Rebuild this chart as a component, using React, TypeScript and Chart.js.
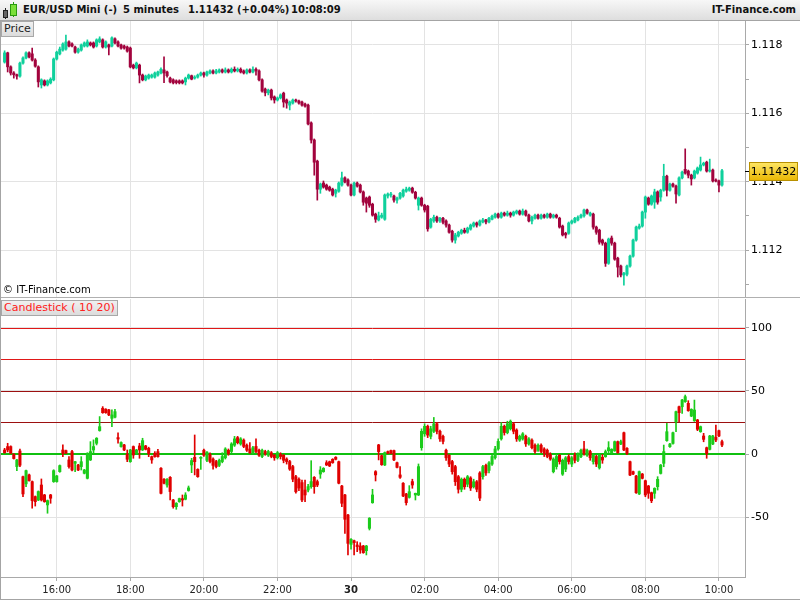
import React, { useEffect, useRef } from 'react';
import { Chart, registerables } from 'chart.js';

Chart.register(...registerables);

// ---------- categories (5-minute slots) ----------
const SESSION_START = '14:30';
const SLOT_COUNT = 243;
const FIRST_CANDLE = '14:35';
const categories: string[] = [];
{
  const [h0, m0] = SESSION_START.split(':').map(Number);
  for (let i = 0; i < SLOT_COUNT; i++) {
    const t = h0 * 60 + m0 + i * 5;
    const h = Math.floor(t / 60) % 24;
    const m = t % 60;
    categories.push(String(h).padStart(2, '0') + ':' + String(m).padStart(2, '0'));
  }
}

// ---------- x tick labels ----------
const hourTickTimes = ['16:00', '18:00', '20:00', '22:00', '00:00', '02:00', '04:00', '06:00', '08:00', '10:00'];
const hourTickLabels = ['16:00', '18:00', '20:00', '22:00', '30', '02:00', '04:00', '06:00', '08:00', '10:00'];
const boldTickLabels = ['30'];

// ---------- header texts ----------
const instrument = 'EUR/USD Mini (-)';
const period = '5 minutes';
const lastQuote = '1.11432 (+0.04%)';
const clock = '10:08:09';
const brand = 'IT-Finance.com';
const copyright = '© IT-Finance.com';
const pricePaneTitle = 'Price';
const indicatorTitle = 'Candlestick ( 10 20)';

// ---------- price candles [open, high, low, close] from 14:35 ----------
const priceCandles: number[][] = [
  [1.11750, 1.11783, 1.11747, 1.11777], [1.11777, 1.11779, 1.11721, 1.11736], [1.11736, 1.11739, 1.11712, 1.11718],
  [1.11718, 1.11722, 1.11703, 1.11713], [1.11713, 1.11715, 1.11700, 1.11709], [1.11709, 1.11750, 1.11706, 1.11747],
  [1.11747, 1.11765, 1.11744, 1.11762], [1.11762, 1.11780, 1.11759, 1.11777], [1.11777, 1.11780, 1.11762, 1.11765],
  [1.11774, 1.11791, 1.11753, 1.11756], [1.11756, 1.11760, 1.11735, 1.11738], [1.11736, 1.11739, 1.11677, 1.11692],
  [1.11683, 1.11701, 1.11674, 1.11698], [1.11695, 1.11698, 1.11680, 1.11683], [1.11683, 1.11698, 1.11680, 1.11695],
  [1.11689, 1.11704, 1.11686, 1.11700], [1.11698, 1.11762, 1.11695, 1.11759], [1.11759, 1.11782, 1.11756, 1.11779],
  [1.11774, 1.11794, 1.11771, 1.11788], [1.11785, 1.11806, 1.11782, 1.11803], [1.11788, 1.11829, 1.11785, 1.11809],
  [1.11809, 1.11812, 1.11794, 1.11797], [1.11803, 1.11806, 1.11794, 1.11797], [1.11794, 1.11797, 1.11776, 1.11779],
  [1.11779, 1.11791, 1.11776, 1.11788], [1.11785, 1.11803, 1.11782, 1.11800], [1.11797, 1.11809, 1.11794, 1.11806],
  [1.11797, 1.11815, 1.11794, 1.11809], [1.11806, 1.11809, 1.11797, 1.11800], [1.11806, 1.11809, 1.11791, 1.11794],
  [1.11797, 1.11818, 1.11794, 1.11815], [1.11809, 1.11824, 1.11806, 1.11818], [1.11815, 1.11818, 1.11791, 1.11794],
  [1.11794, 1.11812, 1.11791, 1.11809], [1.11800, 1.11803, 1.11771, 1.11794], [1.11797, 1.11824, 1.11794, 1.11821],
  [1.11818, 1.11821, 1.11803, 1.11806], [1.11809, 1.11812, 1.11794, 1.11797], [1.11800, 1.11803, 1.11788, 1.11791],
  [1.11797, 1.11800, 1.11788, 1.11791], [1.11794, 1.11797, 1.11779, 1.11782], [1.11791, 1.11794, 1.11733, 1.11736],
  [1.11741, 1.11744, 1.11730, 1.11733], [1.11733, 1.11750, 1.11730, 1.11747], [1.11741, 1.11744, 1.11689, 1.11712],
  [1.11712, 1.11715, 1.11695, 1.11698], [1.11698, 1.11712, 1.11695, 1.11709], [1.11703, 1.11715, 1.11700, 1.11712],
  [1.11706, 1.11715, 1.11703, 1.11712], [1.11706, 1.11721, 1.11703, 1.11718], [1.11712, 1.11724, 1.11709, 1.11721],
  [1.11718, 1.11733, 1.11715, 1.11729], [1.11727, 1.11765, 1.11690, 1.11718], [1.11721, 1.11724, 1.11706, 1.11710],
  [1.11703, 1.11706, 1.11689, 1.11692], [1.11698, 1.11701, 1.11686, 1.11689], [1.11695, 1.11698, 1.11686, 1.11690],
  [1.11695, 1.11698, 1.11686, 1.11689], [1.11695, 1.11698, 1.11686, 1.11689], [1.11692, 1.11706, 1.11683, 1.11703],
  [1.11703, 1.11715, 1.11700, 1.11712], [1.11710, 1.11712, 1.11698, 1.11700], [1.11703, 1.11710, 1.11700, 1.11706],
  [1.11706, 1.11715, 1.11703, 1.11712], [1.11712, 1.11721, 1.11709, 1.11718], [1.11718, 1.11721, 1.11706, 1.11712],
  [1.11712, 1.11724, 1.11709, 1.11721], [1.11718, 1.11727, 1.11715, 1.11724], [1.11724, 1.11727, 1.11715, 1.11718],
  [1.11718, 1.11729, 1.11715, 1.11724], [1.11721, 1.11730, 1.11718, 1.11727], [1.11727, 1.11730, 1.11718, 1.11721],
  [1.11721, 1.11733, 1.11718, 1.11727], [1.11727, 1.11730, 1.11718, 1.11721], [1.11721, 1.11733, 1.11718, 1.11729],
  [1.11729, 1.11736, 1.11721, 1.11724], [1.11724, 1.11733, 1.11721, 1.11729], [1.11729, 1.11733, 1.11718, 1.11721],
  [1.11724, 1.11727, 1.11715, 1.11718], [1.11718, 1.11730, 1.11715, 1.11727], [1.11727, 1.11730, 1.11718, 1.11721],
  [1.11721, 1.11736, 1.11718, 1.11729], [1.11729, 1.11733, 1.11712, 1.11724], [1.11724, 1.11727, 1.11695, 1.11698],
  [1.11698, 1.11701, 1.11662, 1.11665], [1.11671, 1.11674, 1.11651, 1.11660], [1.11660, 1.11671, 1.11654, 1.11668],
  [1.11668, 1.11671, 1.11639, 1.11645], [1.11648, 1.11651, 1.11630, 1.11639], [1.11639, 1.11648, 1.11636, 1.11645],
  [1.11645, 1.11657, 1.11642, 1.11654], [1.11659, 1.11662, 1.11618, 1.11633], [1.11639, 1.11642, 1.11615, 1.11630],
  [1.11624, 1.11636, 1.11610, 1.11633], [1.11630, 1.11642, 1.11627, 1.11639], [1.11639, 1.11642, 1.11633, 1.11636],
  [1.11636, 1.11639, 1.11627, 1.11630], [1.11633, 1.11636, 1.11621, 1.11624], [1.11627, 1.11630, 1.11618, 1.11621],
  [1.11624, 1.11627, 1.11566, 1.11569], [1.11572, 1.11575, 1.11513, 1.11522], [1.11522, 1.11525, 1.11419, 1.11457],
  [1.11460, 1.11463, 1.11346, 1.11378], [1.11378, 1.11396, 1.11366, 1.11393], [1.11396, 1.11402, 1.11381, 1.11384],
  [1.11390, 1.11393, 1.11375, 1.11378], [1.11384, 1.11387, 1.11372, 1.11375], [1.11378, 1.11381, 1.11358, 1.11361],
  [1.11366, 1.11378, 1.11355, 1.11375], [1.11372, 1.11399, 1.11369, 1.11396], [1.11390, 1.11428, 1.11387, 1.11411],
  [1.11411, 1.11414, 1.11396, 1.11399], [1.11405, 1.11408, 1.11387, 1.11390], [1.11390, 1.11393, 1.11358, 1.11361],
  [1.11361, 1.11399, 1.11358, 1.11396], [1.11396, 1.11399, 1.11384, 1.11387], [1.11390, 1.11393, 1.11367, 1.11370],
  [1.11370, 1.11373, 1.11331, 1.11340], [1.11352, 1.11355, 1.11311, 1.11337], [1.11355, 1.11358, 1.11325, 1.11331],
  [1.11334, 1.11337, 1.11299, 1.11302], [1.11305, 1.11308, 1.11281, 1.11290], [1.11288, 1.11311, 1.11285, 1.11300],
  [1.11296, 1.11308, 1.11293, 1.11302], [1.11290, 1.11364, 1.11287, 1.11361], [1.11358, 1.11367, 1.11352, 1.11364],
  [1.11361, 1.11369, 1.11355, 1.11364], [1.11358, 1.11361, 1.11340, 1.11346], [1.11346, 1.11355, 1.11337, 1.11352],
  [1.11352, 1.11369, 1.11349, 1.11366], [1.11358, 1.11378, 1.11355, 1.11375], [1.11372, 1.11384, 1.11369, 1.11378],
  [1.11375, 1.11384, 1.11372, 1.11381], [1.11381, 1.11384, 1.11366, 1.11369], [1.11369, 1.11372, 1.11349, 1.11352],
  [1.11331, 1.11355, 1.11317, 1.11352], [1.11352, 1.11355, 1.11328, 1.11331], [1.11331, 1.11334, 1.11311, 1.11317],
  [1.11328, 1.11331, 1.11255, 1.11262], [1.11267, 1.11293, 1.11264, 1.11290], [1.11285, 1.11302, 1.11281, 1.11296],
  [1.11296, 1.11299, 1.11281, 1.11285], [1.11285, 1.11296, 1.11281, 1.11293], [1.11293, 1.11296, 1.11276, 1.11281],
  [1.11285, 1.11288, 1.11267, 1.11273], [1.11273, 1.11276, 1.11249, 1.11252], [1.11255, 1.11258, 1.11223, 1.11229],
  [1.11229, 1.11249, 1.11220, 1.11244], [1.11241, 1.11255, 1.11238, 1.11252], [1.11249, 1.11261, 1.11246, 1.11258],
  [1.11258, 1.11264, 1.11249, 1.11252], [1.11252, 1.11267, 1.11249, 1.11264], [1.11261, 1.11276, 1.11258, 1.11273],
  [1.11270, 1.11282, 1.11267, 1.11279], [1.11279, 1.11282, 1.11267, 1.11273], [1.11273, 1.11288, 1.11270, 1.11285],
  [1.11282, 1.11293, 1.11279, 1.11288], [1.11288, 1.11290, 1.11276, 1.11282], [1.11282, 1.11296, 1.11279, 1.11293],
  [1.11290, 1.11302, 1.11288, 1.11299], [1.11296, 1.11308, 1.11293, 1.11305], [1.11305, 1.11308, 1.11293, 1.11296],
  [1.11296, 1.11311, 1.11293, 1.11308], [1.11308, 1.11311, 1.11299, 1.11302], [1.11302, 1.11314, 1.11299, 1.11308],
  [1.11308, 1.11311, 1.11296, 1.11302], [1.11302, 1.11314, 1.11299, 1.11311], [1.11308, 1.11317, 1.11305, 1.11314],
  [1.11314, 1.11317, 1.11302, 1.11305], [1.11305, 1.11320, 1.11302, 1.11314], [1.11314, 1.11317, 1.11299, 1.11302],
  [1.11302, 1.11305, 1.11282, 1.11285], [1.11285, 1.11299, 1.11276, 1.11296], [1.11293, 1.11305, 1.11290, 1.11302],
  [1.11302, 1.11305, 1.11290, 1.11293], [1.11293, 1.11305, 1.11290, 1.11302], [1.11302, 1.11305, 1.11293, 1.11296],
  [1.11296, 1.11308, 1.11293, 1.11305], [1.11305, 1.11308, 1.11293, 1.11296], [1.11296, 1.11305, 1.11293, 1.11302],
  [1.11302, 1.11305, 1.11293, 1.11296], [1.11293, 1.11296, 1.11264, 1.11267], [1.11270, 1.11273, 1.11241, 1.11244],
  [1.11249, 1.11252, 1.11235, 1.11244], [1.11249, 1.11282, 1.11246, 1.11279], [1.11279, 1.11288, 1.11276, 1.11285],
  [1.11282, 1.11296, 1.11279, 1.11293], [1.11288, 1.11300, 1.11285, 1.11296], [1.11296, 1.11305, 1.11293, 1.11302],
  [1.11300, 1.11320, 1.11296, 1.11317], [1.11317, 1.11320, 1.11305, 1.11308], [1.11302, 1.11311, 1.11299, 1.11308],
  [1.11305, 1.11308, 1.11261, 1.11267], [1.11267, 1.11270, 1.11246, 1.11252], [1.11258, 1.11261, 1.11217, 1.11223],
  [1.11229, 1.11232, 1.11214, 1.11220], [1.11220, 1.11223, 1.11152, 1.11161], [1.11161, 1.11235, 1.11158, 1.11232],
  [1.11235, 1.11241, 1.11214, 1.11220], [1.11220, 1.11223, 1.11170, 1.11173], [1.11176, 1.11179, 1.11121, 1.11150],
  [1.11153, 1.11156, 1.11121, 1.11127], [1.11127, 1.11135, 1.11097, 1.11132], [1.11129, 1.11156, 1.11124, 1.11153],
  [1.11153, 1.11185, 1.11150, 1.11182], [1.11182, 1.11232, 1.11179, 1.11229], [1.11229, 1.11270, 1.11226, 1.11267],
  [1.11264, 1.11276, 1.11261, 1.11270], [1.11270, 1.11314, 1.11267, 1.11311], [1.11311, 1.11358, 1.11293, 1.11355],
  [1.11352, 1.11355, 1.11331, 1.11334], [1.11334, 1.11361, 1.11331, 1.11358], [1.11340, 1.11378, 1.11322, 1.11370],
  [1.11370, 1.11373, 1.11334, 1.11340], [1.11355, 1.11378, 1.11343, 1.11375], [1.11375, 1.11451, 1.11372, 1.11416],
  [1.11416, 1.11419, 1.11358, 1.11375], [1.11375, 1.11396, 1.11372, 1.11393], [1.11393, 1.11396, 1.11384, 1.11387],
  [1.11387, 1.11390, 1.11337, 1.11364], [1.11361, 1.11414, 1.11358, 1.11411], [1.11411, 1.11431, 1.11408, 1.11428],
  [1.11436, 1.11496, 1.11422, 1.11425], [1.11431, 1.11434, 1.11411, 1.11419], [1.11419, 1.11422, 1.11390, 1.11408],
  [1.11411, 1.11434, 1.11408, 1.11431], [1.11425, 1.11443, 1.11422, 1.11440], [1.11434, 1.11472, 1.11431, 1.11449],
  [1.11449, 1.11457, 1.11446, 1.11454], [1.11457, 1.11460, 1.11428, 1.11431], [1.11431, 1.11466, 1.11428, 1.11434],
  [1.11434, 1.11437, 1.11399, 1.11402], [1.11405, 1.11408, 1.11399, 1.11402], [1.11402, 1.11405, 1.11370, 1.11390],
  [1.11390, 1.11436, 1.11387, 1.11432],
];

// ---------- indicator candles [open, high, low, close] from 14:35 ----------
const indicatorCandles: number[][] = [
  [3.2, 4.5, 0.6, 1.1], [5.9, 8.5, 1.7, 3.2], [5.9, 6.5, 0, 0.6], [-0.2, 0.3, -4, -3.6], [-10, -4.2, -13.2, -4.7],
  [2.4, 4, -10, -8.9], [-18, -17.5, -33.8, -31.7], [-23.7, -12.7, -25.9, -13.2], [-16.6, -16, -21.6, -21.1], [-21.9, -21.4, -43, -37],
  [-33.8, -33.3, -41.3, -37.8], [-36.5, -29.3, -37, -29.8], [-24.6, -19.8, -37.3, -36.5], [-32.5, -32, -38.3, -37.8], [-40.4, -36.5, -47, -37],
  [-32.5, -32, -39.1, -35.1], [-21.9, -12.5, -22.5, -13.2], [-21.9, -17, -22.4, -17.4], [-14, -8.7, -14.5, -9.2], [3.2, 7.2, -2.1, 0.6],
  [2.7, 3.2, 0, 0.6], [-4.7, -2.1, -11.3, -10], [1.9, 3, -13.5, -12.7], [-7.4, -5.8, -14, -6.1], [-8.7, -8.2, -13.2, -12.7],
  [-10, -2.1, -12.7, -6.1], [-15.3, -12.2, -15.8, -12.7], [-19.3, 1, -19.8, 0.6], [-4.7, 9.8, -5.2, 1.9], [3.2, 11.2, 0.6, 5.9],
  [8.5, 13, 7.2, 12.5], [18.6, 29.7, 18.1, 21.7], [36.3, 37.6, 32.3, 32.8], [35.5, 36, 32.3, 32.8], [35, 35.5, 30.5, 31],
  [28.3, 35, 21.7, 31], [29.2, 35.5, 28.7, 33.6], [13, 16.9, 8.5, 11.9], [5.9, 9.6, 5.4, 9.1], [7.2, 7.7, 2.7, 3.2],
  [-0.2, 3.2, -6.1, -4.2], [-6.1, 3.7, -6.6, 3.2], [5.9, 6.4, -3.4, -0.8], [1.1, 3.7, 0.6, 3.2], [6.4, 8.5, -3.4, 3.2],
  [3.2, 12.5, 2.7, 10.6], [6.4, 6.9, 3.2, 3.7], [4.5, 5.4, -2.1, 0], [-2.1, -1.6, -7.4, -4.7], [0.6, 1.9, -2.6, -2.1],
  [1.9, 3.7, -2.6, -2.1], [-11.3, -10.8, -31.7, -31.2], [-20, -19.5, -23.7, -23.2], [-24.6, -19.5, -26.4, -20], [-18.5, -18, -36.5, -29.8],
  [-36.5, -36, -43, -41.8], [-41.8, -38.6, -43.9, -39.1], [-37.8, -35, -38.3, -35.4], [-35.4, -32.5, -41.3, -36.5], [-35.9, -30.7, -36.4, -32.5],
  [-29, -25.4, -29.5, -26.9], [-8.7, -3.4, -14.8, -5.2], [-2.6, 15.1, -16.6, -6.1], [-12.2, -11.7, -18.5, -18], [-3.4, -2.1, -12.2, -2.6],
  [3, 4, -2, -1], [-5, 2, -6, 1.5], [0, 1, -7, -6], [-4, -3, -12, -9], [-6, -5, -11, -10],
  [-9, -4, -10, -5], [-6, 1, -7, -2], [-3, 5, -4, 4], [3, 4, -1, 0], [2, 9, 1, 8],
  [7, 14, 6, 12], [13, 14, 8, 9], [8, 13, 7, 12], [11, 12, 5, 6], [7, 8, 2, 3],
  [4, 9, 0, 1], [1, 6, 0, 5], [6, 12, 1, 2], [3, 4, -2, -1], [-2, 4, -3, 3],
  [2, 3, -1, 0], [-1, 3, -2, 2], [1, 2, -3, -2], [-1, 0, -5, -3], [-3, 2, -4, 1],
  [0, 1, -4, -2], [-1, 0, -7, -5], [-4, -3, -8, -6], [-6, -5, -13, -12], [-10, -9, -22, -20],
  [-18, -17, -31, -30], [-20, -19, -29, -27], [-22.7, -20.6, -37.8, -36.5], [-28.6, -20.6, -37.8, -32.5], [-28.6, -24, -30, -25.9],
  [-25.9, -5.3, -27.2, -21.9], [-18.5, -17.9, -31.2, -25.9], [-21.9, -20.6, -25.9, -24.6], [-15.9, -10, -19.3, -12.7], [-14, -10.8, -14.5, -11.4],
  [-6.9, -5.3, -9.2, -8.7], [-6.1, -5.6, -10, -9.5], [-4.2, -3.7, -7.4, -6.9], [-2.6, -2.1, -4.7, -4.2], [-6.1, -5.6, -23.7, -23.2],
  [-25.4, -24.9, -41.8, -39.1], [-32.5, -32, -63, -51.8], [-48.4, -47.9, -80.1, -70.9], [-71.7, -67.2, -75.6, -67.7], [-68.8, -68.3, -80.1, -70.4],
  [-72.2, -69.6, -77.5, -73.5], [-73, -70.4, -78.8, -76.2], [-73, -72.5, -78.8, -78.3], [-76.7, -72.5, -80.1, -73], [-59, -50.5, -60.3, -51],
  [-38.6, -28, -39.1, -32.5], [-14, -13.2, -21.4, -16.6], [7.2, 7.7, -4.7, 1.9], [-1.3, -0.8, -9, -8.5], [-8.7, 1.6, -9.2, 1.1],
  [1.9, 2.4, 0.1, 0.6], [2.7, 3.2, 0.1, 0.6], [2.7, 3.2, -5.2, -4.7], [-6.9, -6.4, -11.1, -10.6], [-16.6, -10, -19.3, -18.5],
  [-23.2, -22.7, -33.8, -33.3], [-31.7, -31.2, -40.5, -38.6], [-34.4, -25.1, -35, -29.9], [-21.9, -20, -27.2, -24.6], [-32.5, -31, -36.5, -31.2],
  [-32.5, -7.9, -33, -10], [5, 20, 3, 18], [16, 24, 14, 22], [22, 23, 13, 15], [14, 22, 12, 20],
  [18, 29, 17, 24], [24, 25, 16, 18], [18, 19, 10, 12], [14, 15, 8, 10], [3, 4, -5, -3],
  [-1, 0, -10, -8], [-6, -5, -16, -14], [-10, -9, -25, -22], [-18, -17, -31, -28], [-28, -19, -30, -20],
  [-20, -19, -28, -26], [-24, -17, -26, -18], [-19, -18, -29, -27], [-26, -20, -27, -22], [-22, -21, -30, -28],
  [-15, -14, -37, -35], [-18, -9, -20, -10], [-9, -8, -17, -15], [-13, -6, -15, -7], [-8, -1, -9, -2],
  [-3, 6, -4, 4], [4, 12, 3, 10], [12, 25, 11, 22], [22, 23, 15, 17], [17, 26, 16, 24],
  [20, 27, 19, 26], [24, 25, 16, 18], [19, 20, 10, 12], [11, 15, 10, 14], [12, 17, 11, 16],
  [14, 15, 6, 8], [8, 13, 7, 12], [11, 12, 4, 5], [7, 8, 0, 2], [3, 8, 2, 7],
  [7, 8, 1, 2], [4, 5, -2, 0], [3, 4, -3, -2], [0, 1, -5, -4], [-14, -3, -15, -4],
  [-10, 0, -12, -2], [-1, 0, -8, -6], [-16, -4, -17, -5], [-12, -2, -14, -3], [-2, 0, -8, -6],
  [-8, -2, -10, -3], [-1, 1, -7, -5], [-5, 1, -6, 0], [-2, 4, -3, 3], [4, 10, -1, 0],
  [-1, 4, -2, 3], [2, 3, -5, -3], [-6, 0, -8, -1], [-2, -1, -10, -8], [-11, 0, -12, -1],
  [-2.6, 0, -7.4, -4.8], [-2.1, 3.2, -2.6, 1.9], [2.6, 9.8, 1.1, 5], [1.1, 4.2, 0, 3.7], [2.6, 10.3, 2.1, 9.8],
  [9.8, 10.3, 0.6, 1.1], [7.9, 11.1, 7.4, 9.8], [16.9, 17.4, 2.6, 3.2], [4.5, 5, -0.5, 0], [-6.1, -5.6, -17.2, -16.7],
  [-14, -13.5, -16.4, -15.9], [-17.5, -17, -31.2, -30.7], [-31.7, -13.5, -32.2, -14], [-15.9, -15.4, -19.8, -19.3], [-21.2, -20.7, -33.9, -32.5],
  [-25.4, -24.9, -35.2, -31.2], [-30.7, -30.2, -38.6, -37.1], [-31.2, -26.8, -35.2, -27.3], [-25.9, -18, -28.6, -20.1], [-15.4, -8.3, -15.9, -8.8],
  [-7.4, 7.1, -10.1, 1.9], [10.6, 24.3, 10.1, 17.7], [5.8, 8.4, 5.3, 7.9], [8.4, 17.4, 7.9, 16.9], [25.6, 34.1, 17.7, 33.6],
  [37.5, 38, 25.6, 32.8], [37.5, 43.3, 32.3, 42.8], [41.5, 46.8, 41, 45.5], [40.2, 42.3, 33.9, 34.4], [30.1, 35.9, 29.6, 35.4],
  [26.4, 42.8, 25.9, 34.9], [27, 27.5, 18.5, 19.6], [17.7, 22.2, 17.2, 21.7], [14.3, 16.4, 9.7, 11.6], [5, 5.5, -3.4, 0],
  [3.7, 14.8, 3.2, 14.3], [7.9, 14.8, 7.4, 14.3], [13.2, 23, 9.8, 11.1], [18.5, 19, 13.8, 14.3], [9.8, 11.1, 5.8, 7.1],
];

// ---------- axis ranges & levels ----------
const priceMin = 1.110625;
const priceMax = 1.118702;
const priceStep = 0.001;
const indicatorMin = -97.6;
const indicatorMax = 123;
const indicatorStep = 50;
const levelValues = [100, 75, 50, 25, 0];

// ---------- styles ----------
const FONT = 'DejaVu Sans';
const GRID = '#e3e3e3';
const AXIS = '#a9a9a9';
const PRICE_UP = '#0fd09c';
const PRICE_DOWN = '#a2033d';
const IND_UP = '#1bcb1b';
const IND_DOWN = '#e00000';
const levelColors = ['#e01818', '#e01818', '#9c1010', '#9c1010', '#10c010'];
const levelWidths = [1, 1, 1, 1, 2];

const hourIndex = (i: number) => hourTickTimes.indexOf(categories[i]);

function candleDatasets(candles: number[][], up: string, down: string, bodyWidth: number) {
  const offset = categories.indexOf(FIRST_CANDLE);
  const full = categories.map((_, i) => {
    const k = i - offset;
    return k >= 0 && k < candles.length ? candles[k] : null;
  });
  const colors = full.map((c) => (c ? (c[3] >= c[0] ? up : down) : 'rgba(0,0,0,0)'));
  return [
    {
      label: 'body',
      data: full.map((c) => (c ? [c[0], c[3]] : null)),
      backgroundColor: colors,
      borderWidth: 0,
      barThickness: bodyWidth,
      minBarLength: 1,
      grouped: false,
    },
    {
      label: 'wick',
      data: full.map((c) => (c ? [c[2], c[1]] : null)),
      backgroundColor: colors,
      borderWidth: 0,
      barThickness: 1,
      minBarLength: 1,
      grouped: false,
    },
  ];
}

const lastPricePlugin = {
  id: 'lastPrice',
  afterDraw(chart: any) {
    const { ctx, chartArea, scales } = chart;
    const last = priceCandles[priceCandles.length - 1][3];
    const y = Math.round(scales.y.getPixelForValue(last));
    ctx.save();
    ctx.strokeStyle = '#000';
    ctx.lineWidth = 1;
    ctx.beginPath();
    ctx.moveTo(chartArea.right, y + 0.5);
    ctx.lineTo(chartArea.right + 5, y + 0.5);
    ctx.stroke();
    const x0 = chartArea.right + 4;
    const w = 49;
    const h = 19;
    const top = y - 9;
    const g = ctx.createLinearGradient(0, top, 0, top + h);
    g.addColorStop(0, '#ffe867');
    g.addColorStop(1, '#e9b500');
    ctx.fillStyle = g;
    ctx.fillRect(x0, top, w, h);
    ctx.strokeStyle = '#b89000';
    ctx.strokeRect(x0 + 0.5, top + 0.5, w - 1, h - 1);
    ctx.fillStyle = '#000';
    ctx.font = `11px "${FONT}"`;
    ctx.textAlign = 'center';
    ctx.textBaseline = 'middle';
    ctx.fillText(last.toFixed(5), x0 + w / 2, top + h / 2 + 1);
    ctx.restore();
  },
};

const levelsPlugin = {
  id: 'levels',
  beforeDatasetsDraw(chart: any) {
    const { ctx, chartArea, scales } = chart;
    ctx.save();
    levelValues.forEach((v, i) => {
      const lw = levelWidths[i];
      const py = Math.round(scales.y.getPixelForValue(v)) + (lw % 2 ? 0.5 : 0);
      ctx.strokeStyle = levelColors[i];
      ctx.lineWidth = lw;
      ctx.beginPath();
      ctx.moveTo(chartArea.left, py);
      ctx.lineTo(chartArea.right, py);
      ctx.stroke();
    });
    ctx.restore();
  },
};

function baseX(showLabels: boolean) {
  return {
    type: 'category',
    offset: true,
    grid: {
      offset: false,
      color: (c: any) => (hourIndex(c.index) >= 0 ? GRID : 'rgba(0,0,0,0)'),
      tickColor: (c: any) => (hourIndex(c.index) >= 0 ? AXIS : 'rgba(0,0,0,0)'),
      drawTicks: showLabels,
      tickLength: 4,
    },
    border: { display: showLabels, color: AXIS },
    ticks: {
      display: showLabels,
      autoSkip: false,
      maxRotation: 0,
      padding: 3,
      color: '#222',
      font: (c: any) => ({
        family: FONT,
        size: 10,
        weight: c.tick && boldTickLabels.includes(c.tick.label) ? 'bold' : 'normal',
      }),
      callback: (_v: any, i: number) => {
        const k = hourIndex(i);
        return k >= 0 ? hourTickLabels[k] : '';
      },
    },
    afterFit: (s: any) => {
      s.height = showLabels ? 23 : 0;
      s.paddingLeft = 0;
      s.paddingRight = 0;
    },
  };
}

const yFit = (s: any) => {
  s.width = 55;
  s.paddingTop = 0;
  s.paddingBottom = 0;
};

export default function App() {
  const priceRef = useRef<HTMLCanvasElement>(null);
  const indRef = useRef<HTMLCanvasElement>(null);

  useEffect(() => {
    const common = {
      responsive: false,
      animation: false,
      events: [],
      layout: { padding: 0 },
      plugins: { legend: { display: false }, tooltip: { enabled: false } },
    };

    const priceChart = new Chart(priceRef.current!, {
      type: 'bar',
      data: { labels: categories, datasets: candleDatasets(priceCandles, PRICE_UP, PRICE_DOWN, 2.4) as any },
      options: {
        ...common,
        scales: {
          x: baseX(false) as any,
          y: {
            position: 'right',
            min: priceMin,
            max: priceMax,
            grid: {
              color: (c: any) => (Math.round(c.tick.value * 1000) % 2 === 0 ? GRID : 'rgba(0,0,0,0)'),
              tickColor: AXIS,
              tickLength: 4,
            },
            border: { color: AXIS },
            ticks: {
              stepSize: priceStep,
              includeBounds: false,
              padding: 2,
              color: '#000',
              font: { family: FONT, size: 11 },
              callback: (v: any) => {
                const k = Math.round(Number(v) * 1000);
                return k % 2 === 0 ? (k / 1000).toFixed(3) : '';
              },
            },
            afterFit: yFit,
          } as any,
        },
      } as any,
      plugins: [lastPricePlugin],
    });

    const indChart = new Chart(indRef.current!, {
      type: 'bar',
      data: { labels: categories, datasets: candleDatasets(indicatorCandles, IND_UP, IND_DOWN, 2.4) as any },
      options: {
        ...common,
        scales: {
          x: baseX(true) as any,
          y: {
            position: 'right',
            min: indicatorMin,
            max: indicatorMax,
            grid: { color: GRID, tickColor: AXIS, tickLength: 4 },
            border: { color: AXIS },
            ticks: {
              stepSize: indicatorStep,
              includeBounds: false,
              padding: 2,
              color: '#000',
              font: { family: FONT, size: 11 },
            },
            afterFit: yFit,
          } as any,
        },
      } as any,
      plugins: [levelsPlugin],
    });

    return () => {
      priceChart.destroy();
      indChart.destroy();
    };
  }, []);

  const hdrText: React.CSSProperties = {
    position: 'absolute',
    top: 0,
    lineHeight: '20px',
    fontFamily: FONT,
    fontWeight: 'bold',
    fontSize: 10,
    color: '#111',
    whiteSpace: 'nowrap',
  };
  const paneLabel: React.CSSProperties = {
    position: 'absolute',
    left: 1,
    height: 14,
    lineHeight: '14px',
    padding: '0 2px',
    fontFamily: FONT,
    fontSize: 11,
    background: 'linear-gradient(#f0f0f0, #dcdcdc)',
    border: '1px solid #a8a8a8',
    whiteSpace: 'nowrap',
    zIndex: 2,
  };

  return (
    <div style={{ position: 'absolute', left: 0, top: 0, width: 800, height: 600, background: '#fff', overflow: 'hidden' }}>
      {/* header */}
      <div
        style={{
          position: 'absolute', left: 0, top: 0, width: 800, height: 20,
          background: 'linear-gradient(#f7f7f7, #dedede)', borderBottom: '1px solid #a4a4a4',
        }}
      >
        {/* small candlestick icon */}
        <div style={{ position: 'absolute', left: 5, top: 8, width: 1, height: 11, background: '#222' }} />
        <div style={{ position: 'absolute', left: 3, top: 10, width: 3, height: 6, background: '#666', border: '1px solid #222' }} />
        <div style={{ position: 'absolute', left: 13, top: 2, width: 1, height: 15, background: '#2a9a10' }} />
        <div style={{ position: 'absolute', left: 10, top: 4, width: 5, height: 10, background: '#7be03a', border: '1px solid #2a9a10' }} />
        <div style={{ ...hdrText, left: 23 }}>{instrument}</div>
        <div style={{ ...hdrText, left: 123 }}>{period}</div>
        <div style={{ ...hdrText, left: 188 }}>{lastQuote}</div>
        <div style={{ ...hdrText, left: 291 }}>{clock}</div>
        <div style={{ ...hdrText, right: 4 }}>{brand}</div>
      </div>

      {/* price pane */}
      <canvas ref={priceRef} width={800} height={276} style={{ position: 'absolute', left: 0, top: 21, width: 800, height: 276 }} />
      <div style={{ ...paneLabel, top: 21, color: '#222' }}>{pricePaneTitle}</div>
      <div style={{ position: 'absolute', left: 3, top: 284, fontFamily: FONT, fontSize: 10, color: '#000', whiteSpace: 'nowrap' }}>
        {copyright}
      </div>
      <div style={{ position: 'absolute', left: 0, top: 297, width: 800, height: 1, background: '#b0b0b0' }} />

      {/* indicator pane */}
      <canvas ref={indRef} width={800} height={301} style={{ position: 'absolute', left: 0, top: 299, width: 800, height: 301 }} />
      <div style={{ ...paneLabel, top: 300, color: '#ff2020' }}>{indicatorTitle}</div>

      {/* frame */}
      <div style={{ position: 'absolute', left: 0, top: 21, width: 1, height: 579, background: '#a4a4a4', zIndex: 3 }} />
      <div style={{ position: 'absolute', left: 0, top: 599, width: 800, height: 1, background: '#a4a4a4', zIndex: 3 }} />
    </div>
  );
}
